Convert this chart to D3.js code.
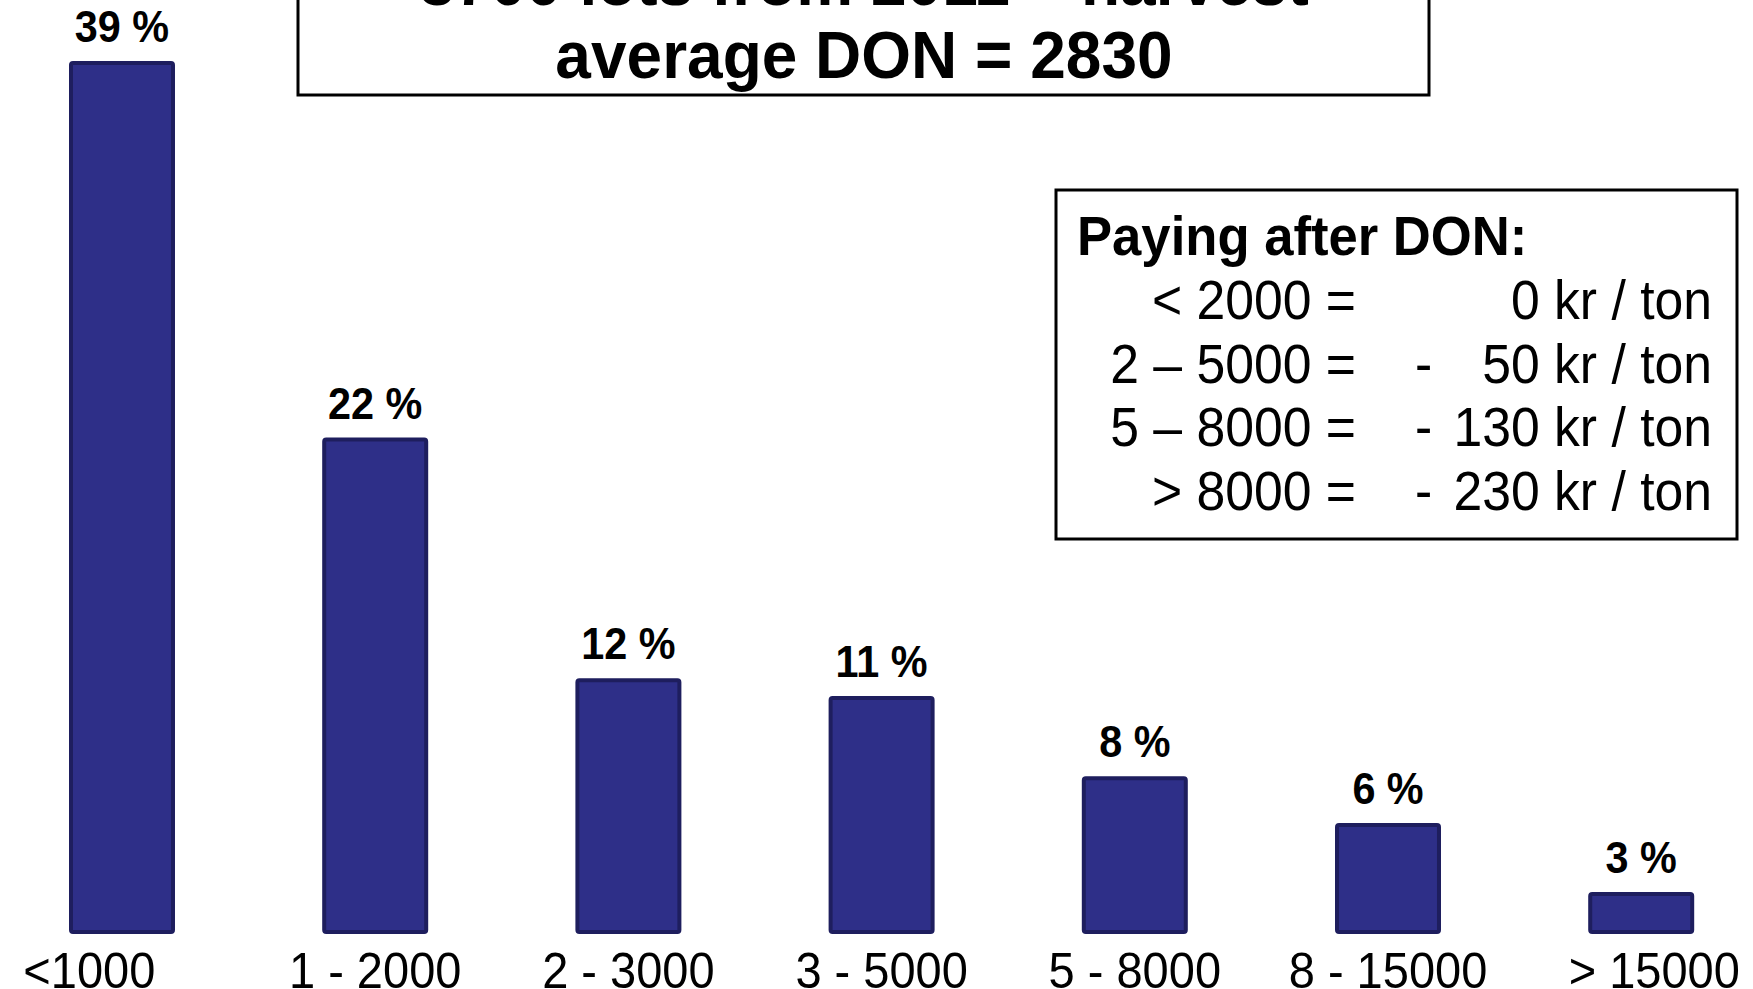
<!DOCTYPE html>
<html>
<head>
<meta charset="utf-8">
<script src="https://cdn.jsdelivr.net/npm/d3@7"></script>
<style>
  body { margin: 0; background: #fff; }
  text { font-family: "Liberation Sans", Arial, sans-serif; }
</style>
</head>
<body>
<script>
var svgWidth = 1753;
var svgHeight = 989;

// chart data
var categories = ["<1000\u00a0\u00a0\u00a0\u00a0\u00a0", "1 - 2000", "2 - 3000", "3 - 5000", "5 - 8000", "8 - 15000", "\u00a0\u00a0> 15000"];
var shares = [39, 22.1, 11.3, 10.5, 6.9, 4.8, 1.7];
var shareLabels = ["39 %", "22 %", "12 %", "11 %", "8 %", "6 %", "3 %"];

var titleLines = ["3700 lots from 2011 – harvest", "average DON = 2830"];
var legendTitle = "Paying after DON:";
var legendRanges = ["< 2000 =", "2 – 5000 =", "5 – 8000 =", "> 8000 ="];
var legendSigns = ["", "-", "-", "-"];
var legendPrices = ["0 kr / ton", "50 kr / ton", "130 kr / ton", "230 kr / ton"];

var svg = d3.select("body")
  .append("svg")
  .attr("width", svgWidth)
  .attr("height", svgHeight);

var xScale = d3.scaleBand()
  .domain(categories)
  .range([5.7, 1757.5])
  .paddingInner(0.5814)
  .paddingOuter(0.25);

var yScale = d3.scaleLinear()
  .domain([0, 39])
  .range([930, 61]);

// text is squeezed a little sideways to look like the narrow font of the original
function label(g, x, y, txt, size, weight, anchor, squeeze) {
  return g.append("text")
    .attr("transform", `translate(${x},${y}) scale(${squeeze || 0.94},1)`)
    .attr("text-anchor", anchor)
    .style("font-size", size + "px")
    .style("font-weight", weight)
    .style("white-space", "pre")
    .text(txt);
}

// bars
var bars = svg.append("g");
bars.selectAll("rect")
  .data(shares)
  .enter()
  .append("rect")
  .attr("x", (d, i) => xScale(categories[i]) + 2)
  .attr("y", d => yScale(d) + 2)
  .attr("width", xScale.bandwidth() - 4)
  .attr("height", d => yScale(0) - yScale(d))
  .attr("rx", 2)
  .attr("fill", "#2e2f88")
  .attr("stroke", "#1e1e5e")
  .attr("stroke-width", 4);

// value labels
shares.forEach(function(d, i) {
  label(svg, xScale(categories[i]) + xScale.bandwidth() / 2, yScale(d) - 19, shareLabels[i], 44, "bold", "middle");
});

// category labels
categories.forEach(function(c) {
  label(svg, xScale(c) + xScale.bandwidth() / 2, 988, c, 50, "normal", "middle");
});

// title box
svg.append("rect")
  .attr("x", 298)
  .attr("y", -60)
  .attr("width", 1131)
  .attr("height", 155)
  .attr("fill", "#fff")
  .attr("stroke", "#000")
  .attr("stroke-width", 3);

titleLines.forEach(function(t, i) {
  label(svg, 864, 5 + i * 73, t, 66, "bold", "middle", 0.97);
});

// legend box
var legend = svg.append("g");
legend.append("rect")
  .attr("x", 1056)
  .attr("y", 190)
  .attr("width", 681)
  .attr("height", 349)
  .attr("fill", "#fff")
  .attr("stroke", "#000")
  .attr("stroke-width", 3);

label(legend, 1077, 255, legendTitle, 56, "bold", "start");

legendRanges.forEach(function(r, i) {
  var y = 319 + i * 63.7;
  label(legend, 1356, y, r, 55, "normal", "end");
  if (legendSigns[i]) label(legend, 1415, y, legendSigns[i], 55, "normal", "start");
  label(legend, 1712, y, legendPrices[i], 55, "normal", "end");
});
</script>
</body>
</html>
